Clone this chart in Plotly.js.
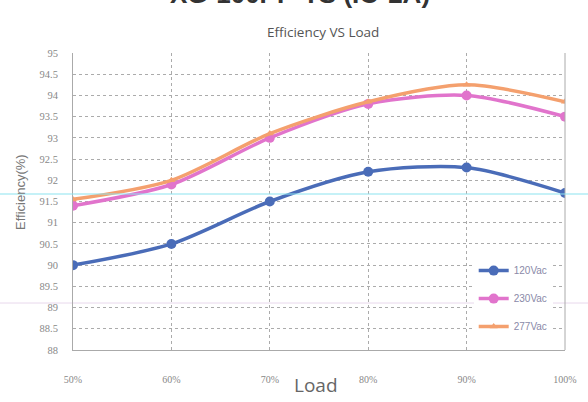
<!DOCTYPE html>
<html><head><meta charset="utf-8">
<script src="https://cdn.plot.ly/plotly-3.0.1.min.js"></script>
<style>html,body{margin:0;padding:0;background:#fff}#c{width:588px;height:402px}</style>
</head><body><div id="c"></div>
<script>
const loads = [50, 60, 70, 80, 90, 100];
const loadLabels = ['50%', '60%', '70%', '80%', '90%', '100%'];
const v120 = [90.0, 90.5, 91.5, 92.2, 92.3, 91.7];
const v230 = [91.4, 91.9, 93.0, 93.8, 94.0, 93.5];
const v277 = [91.55, 92.0, 93.1, 93.85, 94.25, 93.85];
const seriesNames = ['120Vac', '230Vac', '277Vac'];
const yTicks = [88, 88.5, 89, 89.5, 90, 90.5, 91, 91.5, 92, 92.5, 93, 93.5, 94, 94.5, 95];

const mk = (y, name, color, symbol, size, g) => ({
  x: loads, y: y, name: name, type: 'scatter', mode: 'lines+markers',
  line: {color: color, width: 3.5, shape: 'spline', smoothing: 0.8},
  marker: {color: color, size: size, symbol: symbol},
  legendgroup: g
});
const traces = [
  mk(v120, seriesNames[0], '#4a6cb8', 'circle', 10, 'a'),
  mk(v230, seriesNames[1], '#e174cc', 'circle', 10, 'b'),
  mk(v277, seriesNames[2], '#f4a06e', 'triangle-up', 7, 'c')
];
const L = 73, R = 23, T = 53, B = 52, W = 588, H = 402;
const pw = W - L - R, ph = H - T - B;
const px = v => (v - L) / pw;
const py = v => (H - B - v) / ph;
const layout = {
  width: W, height: H,
  margin: {l: L, r: R, t: T, b: B},
  paper_bgcolor: '#fff', plot_bgcolor: '#fff',
  font: {family: 'Liberation Serif', color: '#777', size: 10},
  showlegend: true,
  legend: {x: 0.975, xanchor: 'right', y: 0.03, yanchor: 'bottom', bgcolor: '#fff',
    font: {family: 'Liberation Sans Narrow, Liberation Sans', size: 10, color: '#8a8aa8'},
    traceorder: 'grouped', tracegroupgap: 9, itemwidth: 30},
  xaxis: {range: [50, 100], tickvals: loads, ticktext: loadLabels,
    showgrid: true, gridcolor: '#ababab', griddash: 'dot', gridwidth: 1,
    zeroline: false, showline: true, linecolor: '#aaa', mirror: false,
    ticks: '', ticklabelstandoff: 20, tickfont: {family: 'Liberation Serif', size: 10, color: '#888'}},
  yaxis: {range: [88, 95], tickvals: yTicks, ticktext: yTicks.map(String),
    showgrid: true, gridcolor: '#ababab', griddash: 'dot', gridwidth: 1,
    zeroline: false, showline: true, linecolor: '#aaa',
    ticks: '', ticklabelstandoff: 12, tickfont: {family: 'Liberation Serif', size: 10.5, color: '#888'}},
  shapes: [
    {type: 'line', xref: 'paper', yref: 'paper', x0: 1, x1: 1, y0: 0, y1: 1, line: {color: '#aaa', width: 1}},
    {type: 'line', xref: 'paper', yref: 'paper', x0: px(0), x1: px(W), y0: py(194), y1: py(194), line: {color: '#8be3f0', width: 1.2}, layer: 'above'},
    {type: 'line', xref: 'paper', yref: 'paper', x0: px(0), x1: px(W), y0: py(303), y1: py(303), line: {color: '#e8d8ec', width: 1}, layer: 'below'}
  ],
  annotations: [
    {text: 'XG-100PP-TS (IO-2A)', xref: 'paper', yref: 'paper', x: px(300), y: py(11), xanchor: 'center', yanchor: 'bottom',
      showarrow: false, font: {family: 'Liberation Sans', size: 26, color: '#333', weight: 'bold'}},
    {text: 'Efficiency VS Load', xref: 'paper', yref: 'paper', x: px(323), y: py(32), xanchor: 'center', yanchor: 'middle',
      showarrow: false, font: {family: 'Open Sans', size: 13.5, color: '#555'}},
    {text: 'Load', xref: 'paper', yref: 'paper', x: px(316), y: py(385), xanchor: 'center', yanchor: 'middle',
      showarrow: false, font: {family: 'Open Sans', size: 19, color: '#666'}},
    {text: 'Efficiency(%)', xref: 'paper', yref: 'paper', x: px(20), y: py(192), xanchor: 'center', yanchor: 'middle',
      textangle: -90, showarrow: false, font: {family: 'Liberation Sans Narrow, Liberation Sans', size: 13, color: '#777'}}
  ]
};
Plotly.newPlot('c', traces, layout, {displayModeBar: false, staticPlot: true});
</script></body></html>
